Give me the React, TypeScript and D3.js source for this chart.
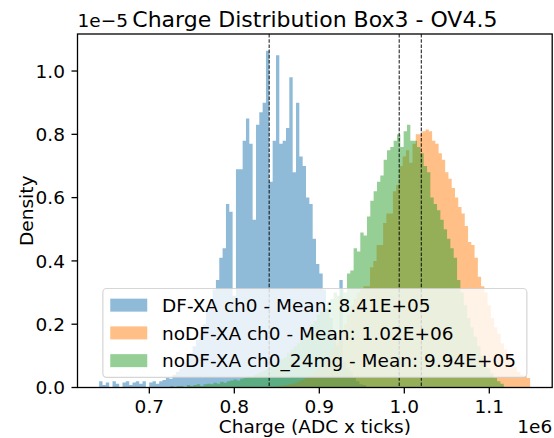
import React from 'react';
import * as d3 from 'd3';

// charge in units of 1e6, density in units of 1e-5
const seriesNames = ['DF-XA ch0', 'noDF-XA ch0', 'noDF-XA ch0_24mg'];
const meanLabels = ['8.41E+05', '1.02E+06', '9.94E+05'];
const means = [0.841, 1.02, 0.994];
const colors = ['#1f77b4', '#ff7f0e', '#2ca02c'];

// histogram ranges [first edge, last edge]
const blueRange = [0.641, 0.955];
const orangeRange = [0.8405, 1.148];
const greenRange = [0.7245, 1.117];

const blueValues = [
  0.02, 0.008, 0.016, 0, 0.02, 0.012, 0, 0.016, 0.02, 0.008,
  0.016, 0.02, 0.012, 0.02, 0, 0.016, 0.02, 0.012, 0.02, 0.024,
  0.03, 0.028, 0.04, 0.05, 0.06, 0.08, 0.09, 0.11, 0.13, 0.15,
  0.17, 0.2, 0.24, 0.27, 0.31, 0.34,
  0.41, 0.44, 0.58, 0.555, 0.29,
  0.69, 0.69, 0.78, 0.85, 0.77, 0.53, 0.83, 0.87, 0.9,
  1.064,
  0.65, 0.78, 1.05, 0.77, 0.78, 0.82,
  0.98, 0.68, 0.9, 0.73, 0.7, 0.6, 0.58, 0.47, 0.39, 0.36, 0.31, 0.25, 0.22, 0.17, 0.13,
  0.34, 0.08, 0.06, 0.05, 0.03, 0.02, 0.01, 0.008,
];

const orangeValues = [
  0.002, 0, 0.004, 0.004, 0.006, 0.008, 0.01, 0.012, 0.015, 0.02, 0.024,
  0.03, 0.035, 0.04, 0.05, 0.06, 0.07, 0.085, 0.1, 0.12, 0.14,
  0.16, 0.18, 0.2, 0.23, 0.26, 0.28, 0.3, 0.31, 0.32, 0.32,
  0.38, 0.4, 0.45, 0.45, 0.52, 0.55, 0.55, 0.62, 0.64, 0.7,
  0.73, 0.75, 0.71, 0.77, 0.8, 0.8, 0.81, 0.815, 0.81,
  0.78, 0.77, 0.74, 0.72, 0.68, 0.66, 0.63, 0.6, 0.57, 0.55,
  0.51, 0.46, 0.45, 0.41, 0.35, 0.32, 0.3, 0.26, 0.22, 0.19,
  0.17, 0.14, 0.12, 0.1, 0.08, 0.065, 0.05, 0.04, 0.035, 0.03,
];

const greenValues = [
  0.005, 0, 0.005, 0.005, 0, 0.008, 0.005, 0.008, 0.01, 0.005,
  0.01, 0.012, 0.01, 0.015, 0.012, 0.018, 0.015, 0.02,
  0.022, 0.025, 0.022, 0.028, 0.03, 0.035, 0.033, 0.04, 0.045,
  0.05, 0.055, 0.06, 0.07, 0.072, 0.08, 0.09, 0.095, 0.11,
  0.12, 0.13, 0.14, 0.15, 0.17, 0.18, 0.2, 0.21, 0.23,
  0.24, 0.25, 0.27, 0.28, 0.3, 0.29, 0.31, 0.3,
  0.36, 0.37, 0.44, 0.43, 0.49, 0.48, 0.54, 0.59, 0.62, 0.65,
  0.67, 0.72, 0.75, 0.76, 0.78, 0.8, 0.76, 0.81, 0.83, 0.78,
  0.78, 0.76, 0.74, 0.7, 0.68, 0.6, 0.58, 0.56, 0.53, 0.5,
  0.47, 0.44, 0.41, 0.34, 0.3, 0.26, 0.22, 0.19, 0.16, 0.13,
  0.1, 0.08, 0.06, 0.045, 0.03, 0.02, 0.012,
];

const xTicks = [0.7, 0.8, 0.9, 1.0, 1.1];
const yTicks = [0, 0.2, 0.4, 0.6, 0.8, 1.0];

const W = 554, H = 438;
const left = 77.5, right = 552.2, top = 34, bottom = 387.5;
const FS = 18.5;
const font = "'DejaVu Sans', sans-serif";

function App() {
  const x = d3.scaleLinear().domain([0.6155, 1.174]).range([left, right]);
  const y = d3.scaleLinear().domain([0, 1.117]).range([bottom, top]);

  const histPath = (range: number[], values: number[]) => {
    const n = values.length;
    const step = (range[1] - range[0]) / n;
    const pts = values.map((v, i) => [range[0] + i * step, v]);
    pts.push([range[1], values[n - 1]]);
    const area = d3.area<number[]>()
      .x(d => x(d[0]))
      .y0(bottom)
      .y1(d => y(d[1]))
      .curve(d3.curveStepAfter);
    return area(pts) || '';
  };

  const hists = [
    histPath(blueRange, blueValues),
    histPath(orangeRange, orangeValues),
    histPath(greenRange, greenValues),
  ];

  // legend geometry
  const lgW = 424, lgH = 88.8;
  const lgX = (left + right) / 2 - lgW / 2;
  const lgY = bottom - 10.2 - lgH;
  const rowPitch = 27.75;

  return (
    <svg width={W} height={H} style={{ position: 'absolute', left: 0, top: 0, background: '#fff' }}
      fontFamily={font}>
      <rect x={0} y={0} width={W} height={H} fill="#fff" />
      {hists.map((d, i) => (
        <path key={i} d={d} fill={colors[i]} fillOpacity={0.5} />
      ))}
      {means.map((m, i) => (
        <line key={i} x1={x(m)} x2={x(m)} y1={top} y2={bottom}
          stroke="#000" strokeWidth={1.1} strokeDasharray="3.6,1.6" strokeOpacity={0.85} />
      ))}

      {/* legend */}
      <rect x={lgX} y={lgY} width={lgW} height={lgH} rx={3.7} fill="#fff" fillOpacity={0.8}
        stroke="#cccccc" strokeOpacity={0.8} strokeWidth={1.2} />
      {seriesNames.map((name, i) => {
        const cy = lgY + 7.4 + FS / 2 + i * rowPitch;
        return (
          <g key={i}>
            <rect x={lgX + 7.4} y={cy - 6.5} width={37} height={13} fill={colors[i]} fillOpacity={0.5} />
            <text x={lgX + 7.4 + 37 + 14.8} y={cy + 6.6} fontSize={FS} fill="#000">
              {`${name} - Mean: ${meanLabels[i]}`}
            </text>
          </g>
        );
      })}

      {/* frame */}
      <rect x={left} y={top} width={right - left} height={bottom - top} fill="none" stroke="#000" strokeWidth={1.3} />

      {xTicks.map(t => (
        <g key={t}>
          <line x1={x(t)} x2={x(t)} y1={bottom} y2={bottom + 6} stroke="#000" strokeWidth={1.3} />
          <text x={x(t)} y={bottom + 25} fontSize={FS} textAnchor="middle" fill="#000">{t.toFixed(1)}</text>
        </g>
      ))}
      {yTicks.map(t => (
        <g key={t}>
          <line x1={left - 6} x2={left} y1={y(t)} y2={y(t)} stroke="#000" strokeWidth={1.3} />
          <text x={left - 12.5} y={y(t) + 6.7} fontSize={FS} textAnchor="end" fill="#000">{t.toFixed(1)}</text>
        </g>
      ))}

      <text x={left} y={27} fontSize={FS} fill="#000">1e−5</text>
      <text x={right} y={433} fontSize={FS} textAnchor="end" fill="#000">1e6</text>
      <text x={(left + right) / 2} y={27} fontSize={22} textAnchor="middle" fill="#000">
        Charge Distribution Box3 - OV4.5
      </text>
      <text x={(left + right) / 2} y={433} fontSize={FS} textAnchor="middle" fill="#000">
        Charge (ADC x ticks)
      </text>
      <text transform={`translate(33,${(top + bottom) / 2}) rotate(-90)`} fontSize={FS}
        textAnchor="middle" fill="#000">Density</text>
    </svg>
  );
}

export default App;
